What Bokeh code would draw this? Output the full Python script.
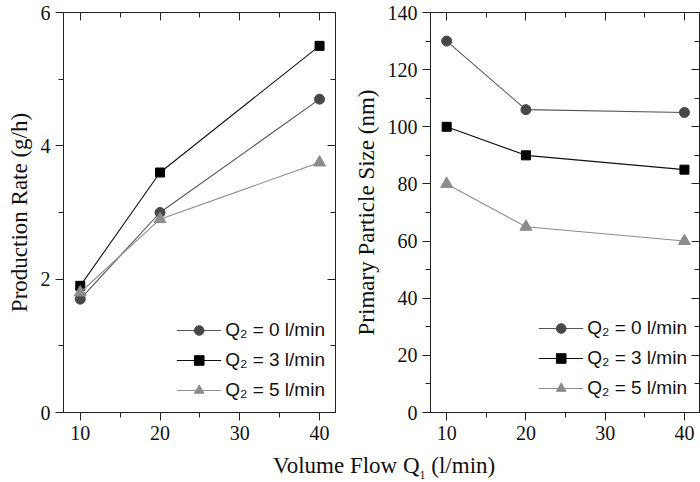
from bokeh.plotting import figure
from bokeh.models import (Range1d, LinearAxis, SingleIntervalTicker, Legend, LegendItem, Div)
from bokeh.layouts import row, column
from bokeh.embed import file_html
from bokeh.resources import INLINE

flow = [10, 20, 40]
rate_q0 = [1.7, 3.0, 4.7]
rate_q3 = [1.9, 3.6, 5.5]
rate_q5 = [1.8, 2.9, 3.75]
size_q0 = [130, 106, 105]
size_q3 = [100, 90, 85]
size_q5 = [80, 65, 60]
series_labels = ["Q\u2082 = 0 l/min", "Q\u2082 = 3 l/min", "Q\u2082 = 5 l/min"]

SERIF = "Liberation Serif"
SANS = "Liberation Sans"
FRAME = "#222222"

styles = [
    dict(marker="circle", size=10, fill="#474747", line="#555555"),
    dict(marker="square", size=9, fill="#000000", line="#111111"),
    dict(marker="triangle", size=12, fill="#8c8c8c", line="#8c8c8c"),
]


def make_fig(width, xr, yr, yint, ylabel, mb_left, mb_right, series, leg_margin):
    p = figure(width=width, height=448, output_backend="svg", toolbar_location=None,
               x_range=Range1d(*xr), y_range=Range1d(*yr),
               min_border_left=mb_left, min_border_right=mb_right,
               min_border_top=12, min_border_bottom=36,
               x_axis_type=None, y_axis_type=None)
    p.grid.visible = False
    p.outline_line_color = FRAME
    p.outline_line_width = 1
    p.background_fill_color = "white"
    p.border_fill_color = "white"

    def mk_axis(interval, main):
        ax = LinearAxis(ticker=SingleIntervalTicker(interval=interval, num_minor_ticks=2))
        ax.axis_line_color = FRAME
        ax.major_tick_line_color = FRAME
        ax.minor_tick_line_color = FRAME
        if main:
            ax.major_tick_out = 8
            ax.major_tick_in = 0
            ax.minor_tick_out = 5
            ax.minor_tick_in = 0
            ax.major_label_text_font = SERIF
            ax.major_label_text_font_size = "20px"
            ax.major_label_text_color = "#111111"
            ax.major_label_standoff = 5
        else:
            ax.major_tick_out = 0
            ax.major_tick_in = 8
            ax.minor_tick_out = 0
            ax.minor_tick_in = 5
            ax.major_label_text_font_size = "0px"
            ax.major_label_text_color = None
            ax.major_label_standoff = 0
        return ax

    xb = mk_axis(10, True)
    p.add_layout(xb, "below")
    yl = mk_axis(yint, True)
    yl.axis_label = ylabel
    yl.axis_label_text_font = SERIF
    yl.axis_label_text_font_size = "23px"
    yl.axis_label_text_font_style = "normal"
    yl.axis_label_text_color = "#111111"
    yl.axis_label_standoff = 6
    p.add_layout(yl, "left")
    p.add_layout(mk_axis(10, False), "above")
    p.add_layout(mk_axis(yint, False), "right")

    items = []
    for ys, st, lab in zip(series, styles, series_labels):
        lr = p.line(flow, ys, line_color=st["line"], line_width=1.1)
        sr = p.scatter(flow, ys, marker=st["marker"], size=st["size"],
                       fill_color=st["fill"], line_color=st["fill"])
        items.append(LegendItem(label=lab, renderers=[lr, sr]))
    leg = Legend(items=items, location="bottom_right")
    leg.border_line_color = None
    leg.background_fill_alpha = 0
    leg.label_text_font = SANS
    leg.label_text_font_size = "19px"
    leg.label_text_color = "#111111"
    leg.glyph_width = 45
    leg.glyph_height = 24
    leg.label_height = 24
    leg.label_standoff = 4
    leg.spacing = 6
    leg.margin = leg_margin
    leg.padding = 6
    p.add_layout(leg, "center")
    return p


p1 = make_fig(350, (7.9, 42.0), (0, 6), 2, "Production Rate (g/h)", 63, 15,
              [rate_q0, rate_q3, rate_q5], 10)
p2 = make_fig(350, (7.96, 41.9), (0, 140), 20, "Primary Particle Size (nm)", 78, 1,
              [size_q0, size_q3, size_q5], 12)

xlabel = Div(
    text=("<div style=\"font-family:'Liberation Serif';font-size:23px;color:#111;"
          "padding-left:268px;white-space:nowrap;line-height:26px;\">"
          "Volume Flow Q<sub style=\"font-size:12px\">1</sub> (l/min)</div>"),
    width=700, height=34)

layout = column(row(p1, p2, spacing=0), xlabel, spacing=0)

open("out.html", "w").write(file_html(layout, INLINE))
